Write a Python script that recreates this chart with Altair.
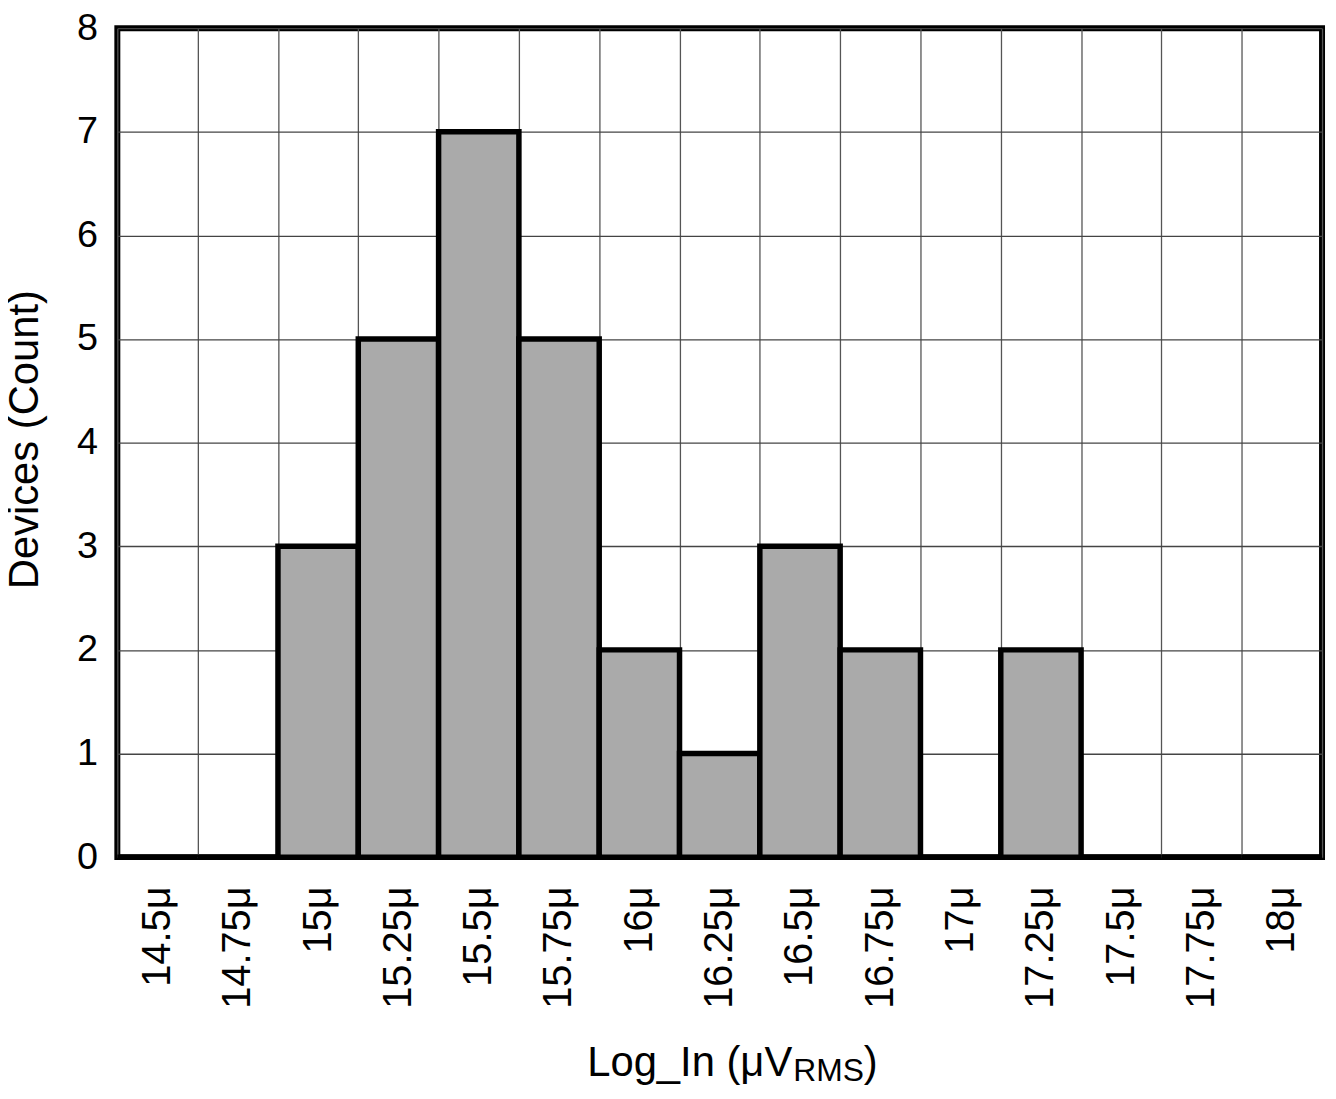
import altair as alt
import pandas as pd

bins = ["14.5μ", "14.75μ", "15μ", "15.25μ", "15.5μ", "15.75μ", "16μ", "16.25μ",
        "16.5μ", "16.75μ", "17μ", "17.25μ", "17.5μ", "17.75μ", "18μ"]
counts = [0, 0, 3, 5, 7, 5, 2, 1, 3, 2, 0, 2, 0, 0, 0]
y_ticks = [0, 1, 2, 3, 4, 5, 6, 7, 8]

df = pd.DataFrame({"bin": bins, "count": counts})

FONT = "Liberation Sans"
W, H = 1212, 834

x_enc = alt.X(
    "bin:N", sort=bins,
    scale=alt.Scale(paddingInner=0, paddingOuter=0),
    axis=alt.Axis(
        title=None, labelAngle=270, labelAlign="right", labelBaseline="middle",
        labelFont=FONT, labelFontSize=40, labelColor="black", labelPadding=29,
        tickSize=0, domain=False, grid=True, gridColor="#555555", gridWidth=1.3,
        tickBand="extent", labelOverlap=False,
    ),
)
y_enc = alt.Y(
    "count:Q",
    scale=alt.Scale(domain=[0, 8], nice=False),
    axis=alt.Axis(
        title=None, values=y_ticks, labelFont=FONT, labelFontSize=38,
        labelColor="black", labelPadding=20, tickSize=0, domain=False,
        grid=True, gridColor="#444444", gridWidth=1.3,
    ),
)

bars = alt.Chart(df).mark_bar(
    color="#aaaaaa", stroke="black", strokeWidth=5.5
).encode(x=x_enc, y=y_enc)

def label(text, x, y, size, align="left", angle=0, baseline="alphabetic"):
    return alt.Chart(pd.DataFrame({"t": [text]})).mark_text(
        font=FONT, fontSize=size, color="black", align=align,
        baseline=baseline, angle=angle,
    ).encode(text="t:N", x=alt.value(x), y=alt.value(y))

t1 = label("Log_In (μV", 679, 1054, 42, align="right")
t2 = label("RMS", 680, 1059, 32, align="left")
t3 = label(")", 751, 1054, 42, align="left")
ty = label("Devices (Count)", -80, 414, 42, align="center", angle=270)

chart = alt.layer(bars, t1, t2, t3, ty).properties(
    width=W, height=H,
    autosize=alt.AutoSizeParams(type="none"),
    padding={"left": 110, "top": 17, "right": 6, "bottom": 232},
).configure(background="white").configure_view(stroke="black", strokeWidth=6)

chart.save("out.html", embed_options={"renderer": "svg", "actions": False})
